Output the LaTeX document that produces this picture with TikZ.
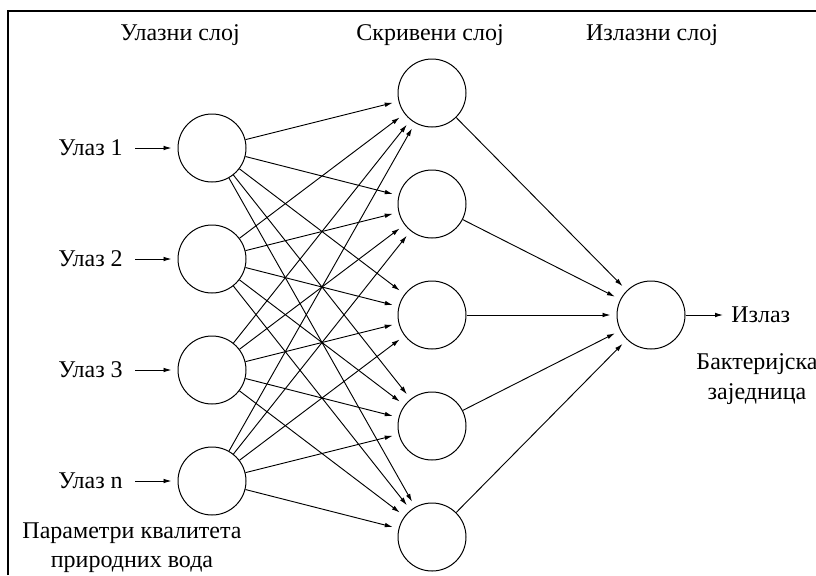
\documentclass[tikz,border=0pt]{standalone}
\usepackage{fontspec}
\setmainfont{Liberation Serif}
\usetikzlibrary{arrows.meta}
\begin{document}
\begin{tikzpicture}[x=0.75pt,y=-0.75pt,
  neuron/.style={circle,draw,line width=0.75pt,minimum size=51pt,inner sep=0pt},
  link/.style={-{Latex[length=6pt,width=3.5pt]},line width=0.7pt,shorten >=4.5pt},
  lbl/.style={font=\fontsize{18}{22}\selectfont,inner sep=0pt}]
\useasboundingbox (0,0) rectangle (816,575);
% frame edges
\draw[line width=0.9pt] (8,575) -- (8,11) -- (816,11);

% layer titles
\node[lbl] (t1) at (180,35) {Улазни слој};
\node[lbl] (t2) at (430,35) {Скривени слој};
\node[lbl] (t3) at (652,35) {Излазни слој};

% neurons
\foreach \i/\y in {1/148,2/259,3/370,4/481}
  \node[neuron] (in\i) at (212,\y) {};
\foreach \j/\y in {1/93,2/204,3/315,4/426,5/537}
  \node[neuron] (h\j) at (432,\y) {};
\node[neuron] (out) at (651,315) {};

% input labels and arrows
\foreach \i/\y/\t in {1/148/Улаз 1,2/259/Улаз 2,3/370/Улаз 3,4/481/Улаз n}{
  \node[lbl,anchor=east] (l\i) at (123,\y) {\t};
  \coordinate (s\i) at (135,\y);
  \draw[link,shorten >=4.5pt] (s\i) -- (in\i);
}

% input to hidden
\foreach \i in {1,...,4}
  \foreach \j in {1,...,5}
    \draw[link] (in\i) -- (h\j);

% hidden to output
\foreach \j in {1,...,5}
  \draw[link] (h\j) -- (out);

% output arrow and labels
\coordinate (o) at (723,315);
\draw[link,shorten >=0pt] (out) -- (o);
\node[lbl,anchor=west] (ol) at (731,315) {Излаз};
\node[lbl,align=center] (bk) at (757,379) {Бактеријска\\заједница};
\node[lbl,align=center] (pm) at (132,548) {Параметри квалитета\\природних вода};
\end{tikzpicture}
\end{document}
